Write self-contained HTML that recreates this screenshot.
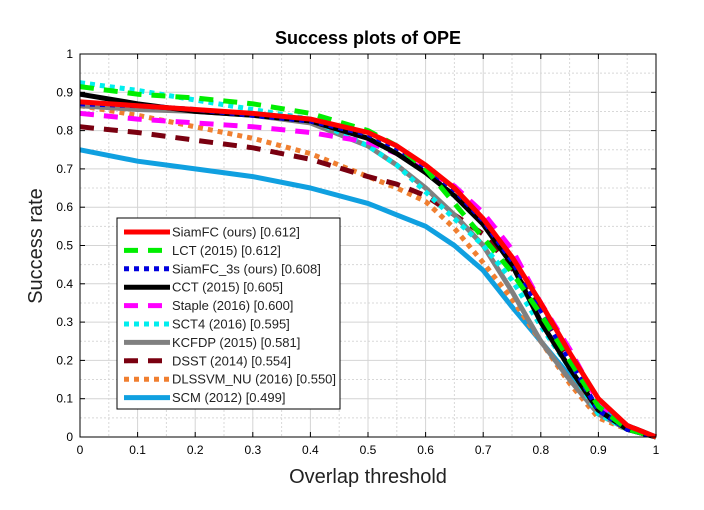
<!DOCTYPE html>
<html><head><meta charset="utf-8"><style>
body{margin:0;background:#fff;}
svg text{font-family:"Liberation Sans",sans-serif;}
</style></head><body>
<svg id="chart" width="704" height="505" xmlns="http://www.w3.org/2000/svg">
<rect width="704" height="505" fill="#fff"/>
<g id="grid"></g>
<g id="series"></g>
<rect x="80" y="54" width="576" height="383" fill="none" stroke="#000" stroke-width="1"/>
<g id="ticks"></g>
<text x="368" y="44" text-anchor="middle" font-size="18" font-weight="bold">Success plots of OPE</text>
<text x="368" y="483" text-anchor="middle" font-size="20" fill="#222">Overlap threshold</text>
<text transform="translate(42,246) rotate(-90)" text-anchor="middle" font-size="20" fill="#222">Success rate</text>
<g id="legend"></g>
</svg>
<script>
const xs = [0,0.1,0.2,0.3,0.4,0.5,0.55,0.6,0.65,0.7,0.75,0.8,0.85,0.9,0.95,1];
const names = ["SiamFC (ours) [0.612]","LCT (2015) [0.612]","SiamFC_3s (ours) [0.608]","CCT (2015) [0.605]","Staple (2016) [0.600]","SCT4 (2016) [0.595]","KCFDP (2015) [0.581]","DSST (2014) [0.554]","DLSSVM_NU (2016) [0.550]","SCM (2012) [0.499]"];
const siamfc = [0.875,0.865,0.855,0.845,0.83,0.795,0.76,0.71,0.65,0.57,0.47,0.35,0.22,0.1,0.03,0];
const lct = [0.915,0.895,0.885,0.87,0.845,0.8,0.76,0.7,0.61,0.52,0.43,0.32,0.2,0.08,0.02,0];
const siamfc3s = [0.87,0.865,0.855,0.84,0.825,0.79,0.755,0.705,0.645,0.565,0.46,0.33,0.2,0.07,0.02,0];
const cct = [0.895,0.87,0.85,0.84,0.825,0.78,0.74,0.69,0.63,0.555,0.45,0.3,0.18,0.07,0.02,0];
const staple = [0.845,0.83,0.82,0.81,0.795,0.77,0.74,0.695,0.655,0.585,0.49,0.35,0.23,0.09,0.02,0];
const sct4 = [0.925,0.905,0.88,0.855,0.83,0.76,0.71,0.64,0.57,0.5,0.41,0.29,0.18,0.06,0.02,0];
const kcfdp = [0.865,0.855,0.85,0.84,0.82,0.76,0.71,0.65,0.58,0.5,0.38,0.25,0.15,0.06,0.02,0];
const dsst = [0.81,0.795,0.775,0.755,0.725,0.68,0.66,0.63,0.58,0.53,0.44,0.33,0.2,0.08,0.03,0];
const dlssvm = [0.865,0.84,0.81,0.78,0.74,0.68,0.65,0.615,0.545,0.455,0.36,0.25,0.14,0.05,0.02,0];
const scm = [0.75,0.72,0.7,0.68,0.65,0.61,0.58,0.55,0.5,0.435,0.34,0.25,0.16,0.08,0.03,0];
const tickLabels = ["0","0.1","0.2","0.3","0.4","0.5","0.6","0.7","0.8","0.9","1"];

const NS="http://www.w3.org/2000/svg";
const X0=80,X1=656,Y0=437,Y1=54;
function sx(v){return X0+(X1-X0)*v;}
function sy(v){return Y0-(Y0-Y1)*v;}
function mk(tag,attrs,parent){const e=document.createElementNS(NS,tag);for(const k in attrs)e.setAttribute(k,attrs[k]);parent.appendChild(e);return e;}
const grid=document.getElementById('grid'),ticks=document.getElementById('ticks'),ser=document.getElementById('series'),leg=document.getElementById('legend');
for(let i=1;i<20;i++){
  const v=i/20, major=i%2===0;
  const a=mk('line',{x1:sx(v),x2:sx(v),y1:Y1,y2:Y0,stroke:major?'#d4d4d4':'#d8d8d8','stroke-width':1,'stroke-dasharray':major?'':'2,2'},grid);
  
  
  const b=mk('line',{x1:X0,x2:X1,y1:sy(v),y2:sy(v),stroke:major?'#d4d4d4':'#d8d8d8','stroke-width':1,'stroke-dasharray':major?'':'2,2'},grid);
  
  
}
tickLabels.forEach((t,i)=>{
  const v=i/10;
  const tx=mk('text',{x:sx(v),y:Y0+17,'text-anchor':'middle','font-size':12},ticks);tx.textContent=t;
  
  
  const ty=mk('text',{x:X0-7,y:sy(v)+4,'text-anchor':'end','font-size':12},ticks);ty.textContent=t;
  
  
  mk('line',{x1:sx(v),x2:sx(v),y1:Y0,y2:Y0-5,stroke:'#000'},ticks);
  mk('line',{x1:sx(v),x2:sx(v),y1:Y1,y2:Y1+5,stroke:'#000'},ticks);
  mk('line',{x1:X0,x2:X0+5,y1:sy(v),y2:sy(v),stroke:'#000'},ticks);
  mk('line',{x1:X1,x2:X1-5,y1:sy(v),y2:sy(v),stroke:'#000'},ticks);
});
const data=[siamfc,lct,siamfc3s,cct,staple,sct4,kcfdp,dsst,dlssvm,scm];
const colors=['#ff0000','#00ee00','#0000dd','#000000','#ff00ff','#00eeee','#808080','#7a0010','#f07f30','#10a0e0'];
const dashes=['','14,10','5,5','','14,10','5,5','','14,10','5,5',''];
const ids=['siamfc','lct','siamfc-3s','cct','staple','sct4','kcfdp','dsst','dlssvm-nu','scm'];
for(let k=data.length-1;k>=0;k--){
  const d=data[k].map((v,i)=>(i?'L':'M')+sx(xs[i]).toFixed(1)+','+sy(v).toFixed(1)).join(' ');
  const p=mk('path',{d:d,fill:'none',stroke:colors[k],'stroke-width':5,'stroke-dasharray':dashes[k],'stroke-linejoin':'round'},ser);
  
  
}
const box=mk('rect',{x:117,y:218,width:223,height:191,fill:'#fff',stroke:'#000','stroke-width':1},leg);


names.forEach((n,k)=>{
  const y=232+k*18.4;
  const g=mk('g',{},leg);
  
  
  mk('line',{x1:124,x2:170,y1:y,y2:y,stroke:colors[k],'stroke-width':5,'stroke-dasharray':dashes[k]},g);
  const t=mk('text',{x:172,y:y+4.5,'font-size':13,fill:'#222'},g);t.textContent=n;
});
</script>
</body></html>
